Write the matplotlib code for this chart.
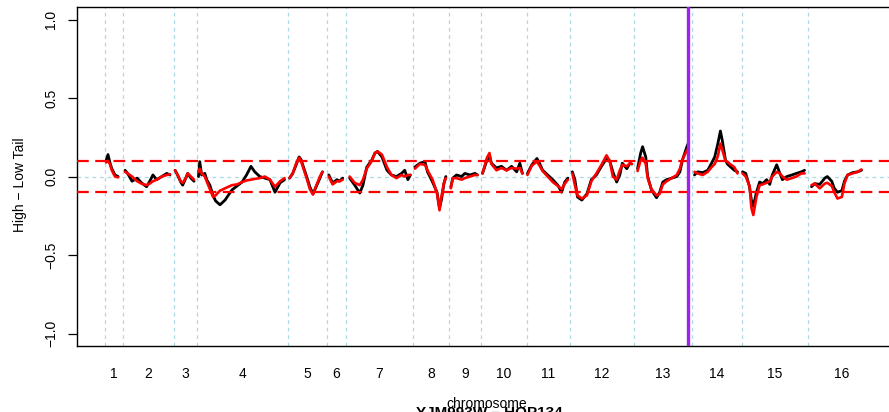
import numpy as np
import matplotlib
matplotlib.use("Agg")
import matplotlib.pyplot as plt

plt.rcParams['font.family'] = ['Liberation Sans', 'DejaVu Sans']

# chromosome start positions along the genome (Mb) and genome end
chrom_starts = [0.0, 0.28, 1.09, 1.45, 2.89, 3.51, 3.81, 4.87, 5.44,
                5.94, 6.67, 7.35, 8.37, 9.28, 10.07, 11.12]
genome_end = 12.17
chrom_names = [str(i) for i in range(1, 17)]
marker_pos = 9.21   # position highlighted with the purple line
threshold = 0.1

# smoothed High - Low tail difference, one list per chromosome
positions = [
    [0.02, 0.05, 0.08, 0.11, 0.16, 0.21],
    [0.32, 0.36, 0.43, 0.51, 0.58, 0.66, 0.71, 0.76, 0.82, 0.90, 0.98, 1.03],
    [1.11, 1.15, 1.20, 1.23, 1.28, 1.31, 1.36, 1.41],
    [1.48, 1.50, 1.53, 1.58, 1.61, 1.66, 1.71, 1.75, 1.82, 1.90, 2.01, 2.09,
     2.17, 2.24, 2.31, 2.37, 2.45, 2.53, 2.61, 2.69, 2.77, 2.84],
    [2.92, 2.97, 3.02, 3.07, 3.10, 3.14, 3.19, 3.24, 3.29, 3.33, 3.40, 3.44],
    [3.54, 3.60, 3.67, 3.71, 3.76],
    [3.87, 3.95, 4.03, 4.08, 4.14, 4.22, 4.27, 4.31, 4.38, 4.46, 4.53, 4.61,
     4.69, 4.74, 4.79, 4.83],
    [4.90, 4.98, 5.06, 5.10, 5.18, 5.25, 5.29, 5.32, 5.36, 5.39],
    [5.47, 5.50, 5.56, 5.64, 5.69, 5.77, 5.85, 5.89],
    [5.97, 6.04, 6.08, 6.11, 6.19, 6.27, 6.35, 6.43, 6.51, 6.56, 6.60],
    [6.68, 6.75, 6.83, 6.87, 6.92, 7.00, 7.08, 7.16, 7.22, 7.27, 7.32],
    [7.39, 7.43, 7.47, 7.54, 7.62, 7.69, 7.77, 7.85, 7.93, 7.98, 8.03, 8.09,
     8.14, 8.18, 8.25, 8.30, 8.33],
    [8.42, 8.47, 8.50, 8.55, 8.58, 8.64, 8.72, 8.77, 8.82, 8.88, 8.96, 9.04,
     9.09, 9.13, 9.20, 9.23],
    [9.32, 9.37, 9.45, 9.53, 9.59, 9.64, 9.69, 9.73, 9.76, 9.81, 9.84, 9.88,
     9.95, 10.00],
    [10.08, 10.13, 10.19, 10.22, 10.25, 10.30, 10.35, 10.40, 10.46, 10.51,
     10.55, 10.62, 10.67, 10.71, 10.78, 10.86, 10.93, 11.01, 11.06],
    [11.17, 11.22, 11.30, 11.38, 11.42, 11.49, 11.53, 11.58, 11.65, 11.69,
     11.74, 11.82, 11.90, 11.96],
]

diff_black = [
    [0.10, 0.14, 0.09, 0.05, 0.01, 0.0],
    [0.04, 0.02, -0.03, -0.01, -0.04, -0.065, -0.03, 0.01, -0.02, 0.0, 0.02, 0.01],
    [0.04, 0.01, -0.035, -0.055, -0.01, 0.02, -0.01, -0.03],
    [0.0, 0.095, 0.01, 0.02, -0.02, -0.055, -0.12, -0.155, -0.18, -0.15, -0.085,
     -0.06, -0.035, 0.01, 0.065, 0.03, 0.0, -0.01, -0.02, -0.1, -0.04, -0.02],
    [-0.01, 0.02, 0.07, 0.125, 0.11, 0.06, 0.0, -0.065, -0.11, -0.075, -0.01, 0.03],
    [0.01, -0.04, -0.02, -0.03, -0.01],
    [-0.01, -0.055, -0.105, -0.055, 0.06, 0.105, 0.15, 0.16, 0.125, 0.04, 0.01,
     0.0, 0.02, 0.04, -0.02, 0.01],
    [0.06, 0.085, 0.095, 0.03, -0.035, -0.1, -0.2, -0.15, -0.045, 0.0],
    [-0.065, -0.01, 0.01, 0.0, 0.02, 0.01, 0.02, 0.01],
    [0.02, 0.105, 0.135, 0.085, 0.055, 0.065, 0.04, 0.065, 0.03, 0.085, 0.02],
    [0.02, 0.075, 0.115, 0.085, 0.04, 0.01, -0.02, -0.055, -0.1, -0.035, -0.01],
    [0.03, -0.02, -0.13, -0.15, -0.11, -0.02, 0.01, 0.065, 0.115, 0.1, 0.03,
     -0.035, 0.01, 0.085, 0.05, 0.085, 0.08],
    [0.05, 0.15, 0.19, 0.125, 0.0, -0.085, -0.135, -0.1, -0.035, -0.02, -0.01,
     0.0, 0.03, 0.105, 0.19, 0.22],
    [0.01, 0.03, 0.025, 0.04, 0.085, 0.125, 0.21, 0.29, 0.23, 0.105, 0.08,
     0.065, 0.04, 0.03],
    [0.03, 0.02, -0.065, -0.15, -0.19, -0.1, -0.035, -0.045, -0.02, -0.05, 0.01,
     0.075, 0.02, -0.02, 0.0, 0.01, 0.02, 0.03, 0.04],
    [-0.065, -0.045, -0.05, -0.01, 0.0, -0.03, -0.075, -0.1, -0.09, -0.03, 0.01,
     0.025, 0.03, 0.04],
]

diff_red = [
    [0.09, 0.10, 0.08, 0.04, 0.0, -0.005],
    [0.03, 0.02, 0.0, -0.03, -0.045, -0.055, -0.045, -0.03, -0.02, 0.0, 0.01, 0.015],
    [0.04, 0.01, -0.03, -0.04, -0.01, 0.02, 0.0, -0.02],
    [0.03, 0.05, 0.02, 0.0, -0.03, -0.08, -0.13, -0.12, -0.09, -0.075, -0.055,
     -0.05, -0.035, -0.025, -0.02, -0.015, -0.01, 0.0, -0.02, -0.065, -0.03, -0.01],
    [-0.01, 0.02, 0.08, 0.12, 0.1, 0.05, -0.01, -0.08, -0.115, -0.07, 0.0, 0.03],
    [0.0, -0.05, -0.03, -0.03, -0.02],
    [0.0, -0.04, -0.055, -0.02, 0.05, 0.1, 0.15, 0.16, 0.14, 0.06, 0.01, -0.01,
     0.01, 0.0, 0.01, 0.01],
    [0.05, 0.08, 0.075, 0.04, -0.02, -0.105, -0.215, -0.13, -0.04, -0.01],
    [-0.075, -0.01, -0.01, -0.02, -0.01, 0.0, 0.01, 0.01],
    [0.02, 0.12, 0.15, 0.08, 0.04, 0.055, 0.04, 0.055, 0.05, 0.055, 0.02],
    [0.01, 0.07, 0.095, 0.07, 0.035, 0.0, -0.035, -0.06, -0.08, -0.045, -0.02],
    [0.02, -0.055, -0.12, -0.14, -0.12, -0.03, 0.02, 0.075, 0.135, 0.1, 0.0,
     -0.02, 0.04, 0.075, 0.065, 0.085, 0.08],
    [0.035, 0.105, 0.12, 0.08, -0.01, -0.08, -0.12, -0.11, -0.05, -0.03, -0.01,
     0.01, 0.05, 0.11, 0.165, 0.18],
    [0.03, 0.02, 0.01, 0.03, 0.06, 0.08, 0.13, 0.21, 0.17, 0.1, 0.095, 0.08,
     0.06, 0.02],
    [0.02, 0.0, -0.06, -0.2, -0.245, -0.13, -0.055, -0.05, -0.04, -0.03, 0.0,
     0.03, 0.02, 0.0, -0.02, -0.01, 0.0, 0.02, 0.02],
    [-0.055, -0.045, -0.075, -0.045, -0.04, -0.06, -0.1, -0.14, -0.13, -0.045,
     0.01, 0.02, 0.03, 0.045],
]

fig = plt.figure(figsize=(8.89, 4.12), dpi=100)
ax = fig.add_axes([0.0866, 0.160, 0.928, 0.823])

# chromosome boundaries and zero line
for s in chrom_starts:
    ax.axvline(s, color='lightblue', lw=0.9, ls=(0, (3, 3)), zorder=1)
ax.axhline(0, color='lightblue', lw=0.9, ls=(0, (3, 3)), zorder=1)

for pos, b, r in zip(positions, diff_black, diff_red):
    ax.plot(pos, b, color='black', lw=2.0, zorder=3, solid_capstyle='round')
    ax.plot(pos, r, color='red', lw=1.9, zorder=4, solid_capstyle='round')

for t in (threshold, -threshold):
    ax.axhline(t, color='red', lw=1.6, ls=(0, (5.3, 2.9)), zorder=5)

ax.axvline(marker_pos, color='#A020F0', lw=2.4, zorder=6)

ax.set_xlim(-0.44, 12.6)
ax.set_ylim(-1.08, 1.08)

ends = chrom_starts[1:] + [genome_end]
mids = [(a + b) / 2 for a, b in zip(chrom_starts, ends)]
ax.set_xticks(mids)
ax.set_xticklabels(chrom_names, fontsize=10)
ax.tick_params(axis='x', length=0, pad=15)

ax.set_yticks([-1.0, -0.5, 0.0, 0.5, 1.0])
ax.set_yticklabels(['\u22121.0', '\u22120.5', '0.0', '0.5', '1.0'], fontsize=10)
ax.tick_params(axis='y', length=6.5, pad=7, width=0.9)
plt.setp(ax.get_yticklabels(), rotation=90, va='center')

for sp in ax.spines.values():
    sp.set_linewidth(1.0)

fig.text(20 / 889, 1 - 185 / 412, 'High \u2212 Low Tail', rotation=90,
         ha='center', va='center', fontsize=10)
# axis title and the (partly cropped) bold caption underneath
fig.text(487 / 889, 1 - 408 / 412, 'chromosome', ha='center',
         va='baseline', fontsize=10)
fig.text(489 / 889, 1 - 406 / 412, 'YJM993W \u2013 HOP134', ha='center',
         va='top', fontsize=11, fontweight='bold')

fig.savefig('out.png', dpi=100)
